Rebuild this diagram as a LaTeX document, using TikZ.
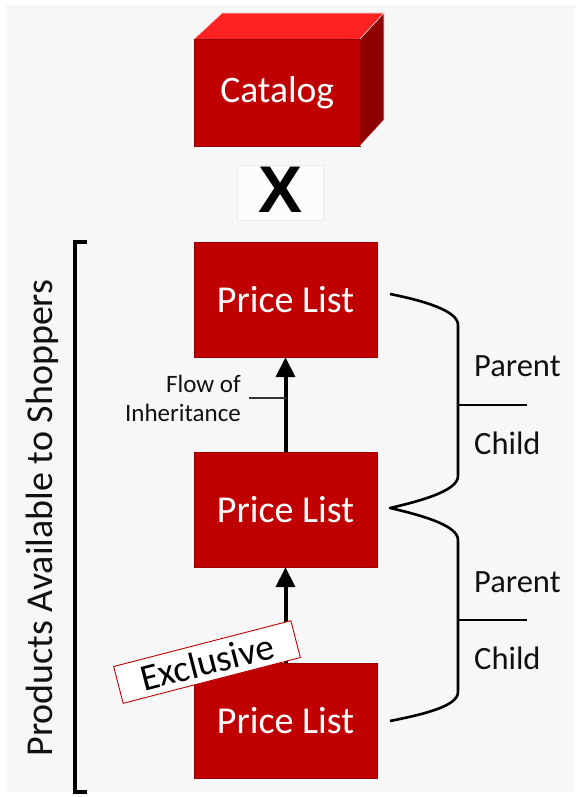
\documentclass[tikz,border=0pt]{standalone}
\usepackage{fontspec}
\setmainfont{Carlito}
\newfontfamily\xfont{Liberation Sans}
\usetikzlibrary{arrows.meta}
\definecolor{boxred}{HTML}{C00000}
\definecolor{topred}{HTML}{FF2222}
\definecolor{sidered}{HTML}{8E0000}
\definecolor{bggray}{HTML}{F7F7F7}
\definecolor{txt}{HTML}{111111}
\tikzset{
  plbox/.style={fill=boxred, draw=boxred!80!black, line width=0.4pt, minimum width=183pt, minimum height=115pt, inner sep=0pt, text=white, font=\fontsize{38}{45}\selectfont},
  flowarrow/.style={line width=4pt, -{Triangle[width=19pt,length=20pt]}},
  bracepath/.style={line width=2.6pt, line join=round},
  ticklink/.style={line width=2.2pt},
  lbl/.style={text=txt, inner sep=0pt, font=\fontsize{32.5}{38}\selectfont},
}
\begin{document}
\begin{tikzpicture}[x=1pt,y=-1pt]
\useasboundingbox (0,0) rectangle (579,797);
\fill[white] (0,0) rectangle (579,797);
\fill[bggray] (6,5) rectangle (575,792);
% Catalog cube
\fill[topred] (194,39) -- (222,13) -- (384,13) -- (360,39) -- cycle;
\fill[sidered] (360,39) -- (384,13) -- (384,120) -- (360,146) -- cycle;
\node[plbox, minimum width=166pt, minimum height=107pt, anchor=north west, font=\fontsize{37.5}{44}\selectfont] (cat) at (194,39) {Catalog};
\draw[white!85!gray, line width=0.6pt] (194,39) -- (222,13) -- (384,13) -- (384,120) -- (360,146);
\draw[white!85!gray, line width=0.6pt] (360,39) -- (384,13);
% X
\node[fill=bggray!40!white, draw=bggray!90!gray, line width=0.4pt, minimum width=86pt, minimum height=55pt] (xbg) at (280,192.5) {};
\node[inner sep=0pt, font=\xfont\bfseries\fontsize{66}{70}\selectfont] (x) at (280.5,190) {X};
% Price lists
\node[plbox] (pl1) at (285.5,299.5) {Price List};
\node[plbox] (pl2) at (285.5,509.5) {Price List};
\node[plbox] (pl3) at (285.5,720.5) {Price List};
% arrows
\draw[flowarrow] (pl2.north) -- (pl1.south);
\draw[flowarrow] (pl3.north) -- (pl2.south);
% Flow of inheritance
\node[anchor=east, align=right, text=txt, inner sep=0pt, font=\fontsize{25}{29}\selectfont] (flow) at (241,398) {Flow of\\Inheritance};
\coordinate (fl) at (285.5,398);
\draw[line width=1.2pt, black!80] (249,398) -- (fl);
% Exclusive label
\node[rotate=14.5, fill=white, draw=red!75!black, line width=0.9pt, minimum width=183pt, minimum height=38pt, inner sep=0pt, font=\fontsize{37.5}{42}\selectfont] (excl) at (207,662) {Exclusive};
% Braces
\coordinate (b1) at (390,294);
\coordinate (b2) at (390,508);
\coordinate (b3) at (390,721);
\draw[bracepath] (b1) .. controls (425,301) and (458,311) .. (458,325) -- (458,476)
  .. controls (458,490) and (425,500) .. (b2)
  .. controls (425,516) and (458,526) .. (458,540) -- (458,692)
  .. controls (458,706) and (425,714) .. (b3);
\coordinate (t1) at (527,405);
\coordinate (t2) at (527,620);
\draw[ticklink] (458,405) -- (t1);
\draw[ticklink] (458,620) -- (t2);
\node[lbl, anchor=west] (p1) at (474,366) {Parent};
\node[lbl, anchor=west] (c1) at (474,443) {Child};
\node[lbl, anchor=west] (p2) at (474,582) {Parent};
\node[lbl, anchor=west] (c2) at (474,658) {Child};
% Left bracket
\draw[line width=3.5pt] (87,242) -- (75,242) -- (75,792) -- (87,792);
\node[rotate=90, text=txt, inner sep=0pt, font=\fontsize{38}{45}\selectfont] (prod) at (42,518) {Products Available to Shoppers};
\end{tikzpicture}
\end{document}
